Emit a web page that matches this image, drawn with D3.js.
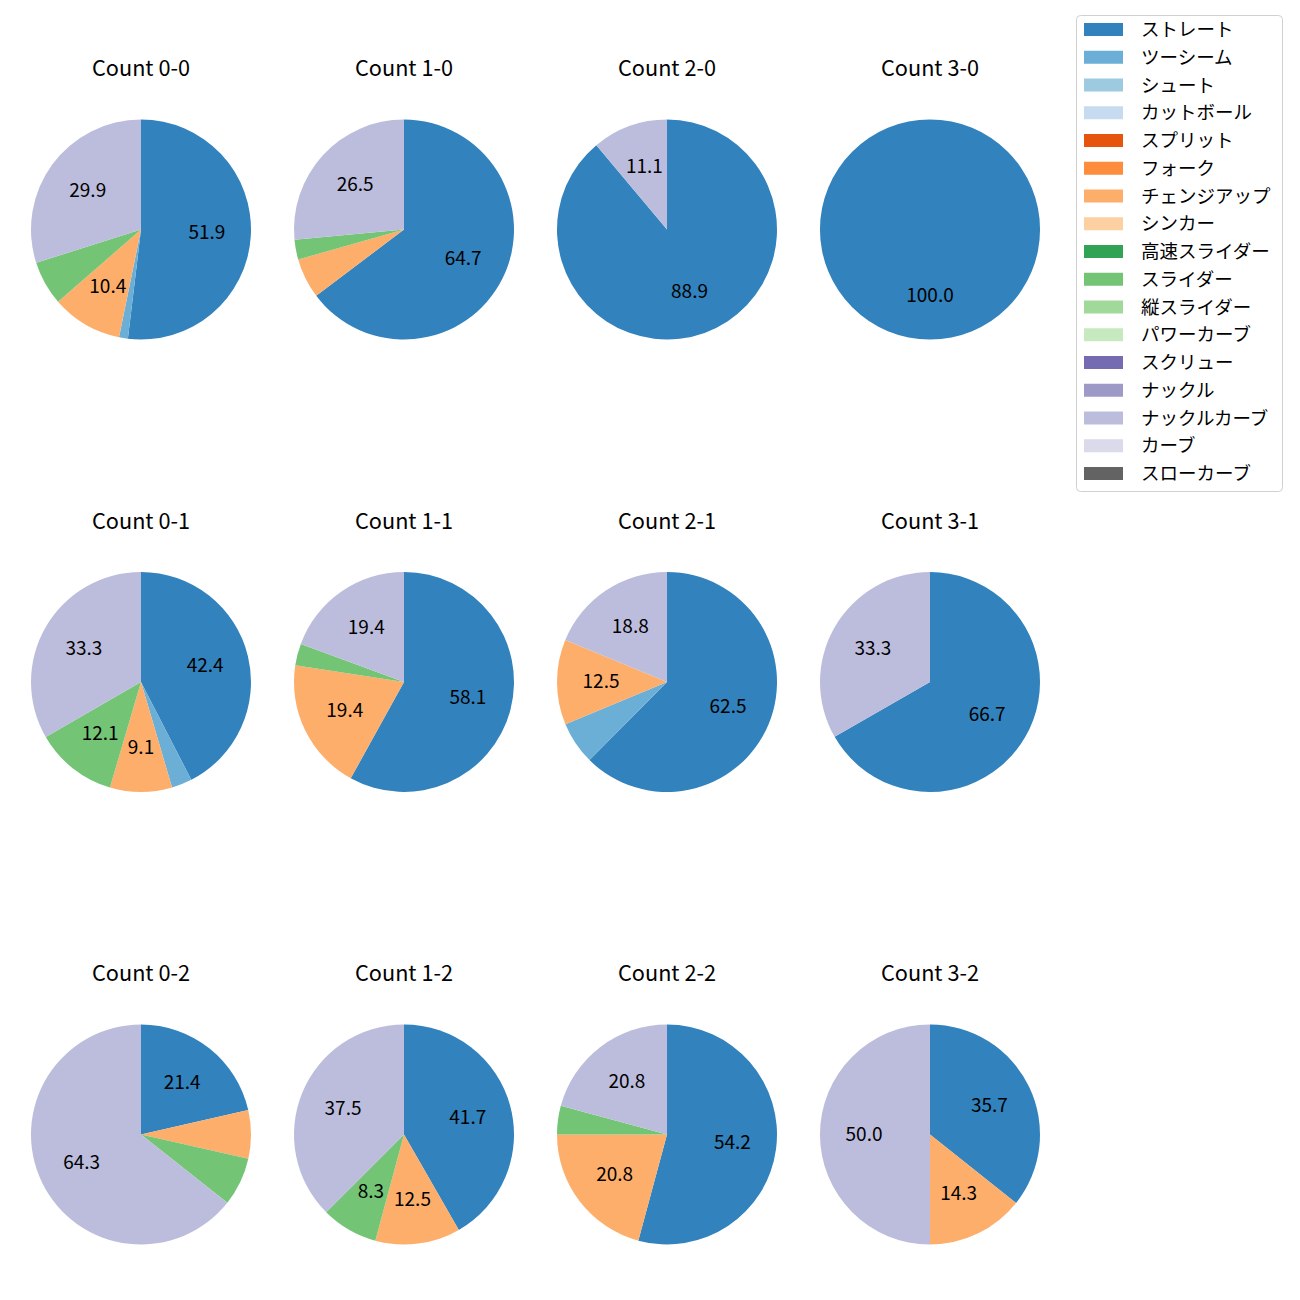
<!DOCTYPE html>
<html>
<head>
<meta charset="utf-8">
<script src="https://cdn.jsdelivr.net/npm/d3@7"></script>
<style>
  html, body { margin: 0; padding: 0; background: #fff; }
  svg { display: block; }
  text { font-family: "Noto Sans CJK JP", "Noto Sans", sans-serif; }
</style>
</head>
<body>
<svg id="chart" width="1300" height="1300"></svg>
<script>
// Pitch types (legend order) and colours
const pitchTypes = ["ストレート","ツーシーム","シュート","カットボール","スプリット","フォーク","チェンジアップ","シンカー","高速スライダー","スライダー","縦スライダー","パワーカーブ","スクリュー","ナックル","ナックルカーブ","カーブ","スローカーブ"];
const pitchColors = ["#3182bd","#6baed6","#9ecae1","#c6dbef","#e6550d","#fd8d3c","#fdae6b","#fdd0a2","#31a354","#74c476","#a1d99b","#c7e9c0","#756bb1","#9e9ac8","#bcbddc","#dadaeb","#636363"];

// Counts (row-major: balls-strikes)
const countLabels = ["Count 0-0","Count 1-0","Count 2-0","Count 3-0",
                     "Count 0-1","Count 1-1","Count 2-1","Count 3-1",
                     "Count 0-2","Count 1-2","Count 2-2","Count 3-2"];

// Percentages per pitch type for each count (same order as countLabels)
const straight     = [51.9, 64.7, 88.9, 100.0, 42.4, 58.1, 62.5, 66.7, 21.4, 41.7, 54.2, 35.7];
const twoSeam      = [ 1.3,  0,    0,     0,    3.0,  0,    6.3,  0,    0,    0,    0,    0  ];
const changeUp     = [10.4,  5.9,  0,     0,    9.1, 19.4, 12.5,  0,    7.1, 12.5, 20.8, 14.3];
const slider       = [ 6.5,  2.9,  0,     0,   12.1,  3.2,  0,    0,    7.1,  8.3,  4.2,  0  ];
const knuckleCurve = [29.9, 26.5, 11.1,   0,   33.3, 19.4, 18.8, 33.3, 64.3, 37.5, 20.8, 50.0];

const seriesByPitch = {
  "ストレート": straight,
  "ツーシーム": twoSeam,
  "チェンジアップ": changeUp,
  "スライダー": slider,
  "ナックルカーブ": knuckleCurve
};

const svg = d3.select("#chart");
const color = d3.scaleOrdinal().domain(pitchTypes).range(pitchColors);

const colX = d3.scalePoint().domain([0,1,2,3]).range([141, 930]);
const rowY = d3.scalePoint().domain([0,1,2]).range([229.5, 1134.5]);
const radius = 110;

const pie = d3.pie().sort(null).value(d => d.value);
const arc = d3.arc().innerRadius(0).outerRadius(radius);
const labelArc = d3.arc().innerRadius(radius * 0.6).outerRadius(radius * 0.6);

countLabels.forEach((label, i) => {
  const col = i % 4, row = Math.floor(i / 4);
  const cx = colX(col), cy = rowY(row);
  const data = pitchTypes
    .map(p => ({ pitch: p, value: seriesByPitch[p] ? seriesByPitch[p][i] : 0 }))
    .filter(d => d.value > 0);

  const g = svg.append("g").attr("transform", `translate(${cx},${cy})`);
  const arcs = pie(data);
  g.selectAll("path").data(arcs).join("path")
    .attr("d", arc)
    .attr("fill", d => color(d.data.pitch));

  g.selectAll("text.pct").data(arcs.filter(d => d.data.value >= 8)).join("text")
    .attr("class", "pct")
    .attr("x", d => labelArc.centroid(d)[0])
    .attr("y", d => labelArc.centroid(d)[1] + 6)
    .attr("text-anchor", "middle")
    .attr("font-size", 19)
    .attr("fill", "#000")
    .text(d => d.data.value.toFixed(1));

  svg.append("text")
    .attr("x", cx)
    .attr("y", cy - 153.5)
    .attr("text-anchor", "middle")
    .attr("font-size", 21.7)
    .attr("fill", "#000")
    .text(label);
});

// Legend
const legend = svg.append("g");
legend.append("rect")
  .attr("x", 1076.5).attr("y", 15.5)
  .attr("width", 206).attr("height", 476)
  .attr("rx", 4).attr("ry", 4)
  .attr("fill", "#fff").attr("fill-opacity", 0.8)
  .attr("stroke", "#d0d0d0").attr("stroke-width", 1);

const legY = d3.scalePoint().domain(pitchTypes).range([29.5, 473.5]);
const items = legend.selectAll("g.item").data(pitchTypes).join("g")
  .attr("class", "item")
  .attr("transform", d => `translate(0,${legY(d)})`);
items.append("rect")
  .attr("x", 1084).attr("y", -6.5)
  .attr("width", 39).attr("height", 13)
  .attr("fill", d => color(d));
items.append("text")
  .attr("x", 1141).attr("y", 6.5)
  .attr("font-size", 18.5)
  .attr("fill", "#000")
  .text(d => d);
</script>
</body>
</html>
